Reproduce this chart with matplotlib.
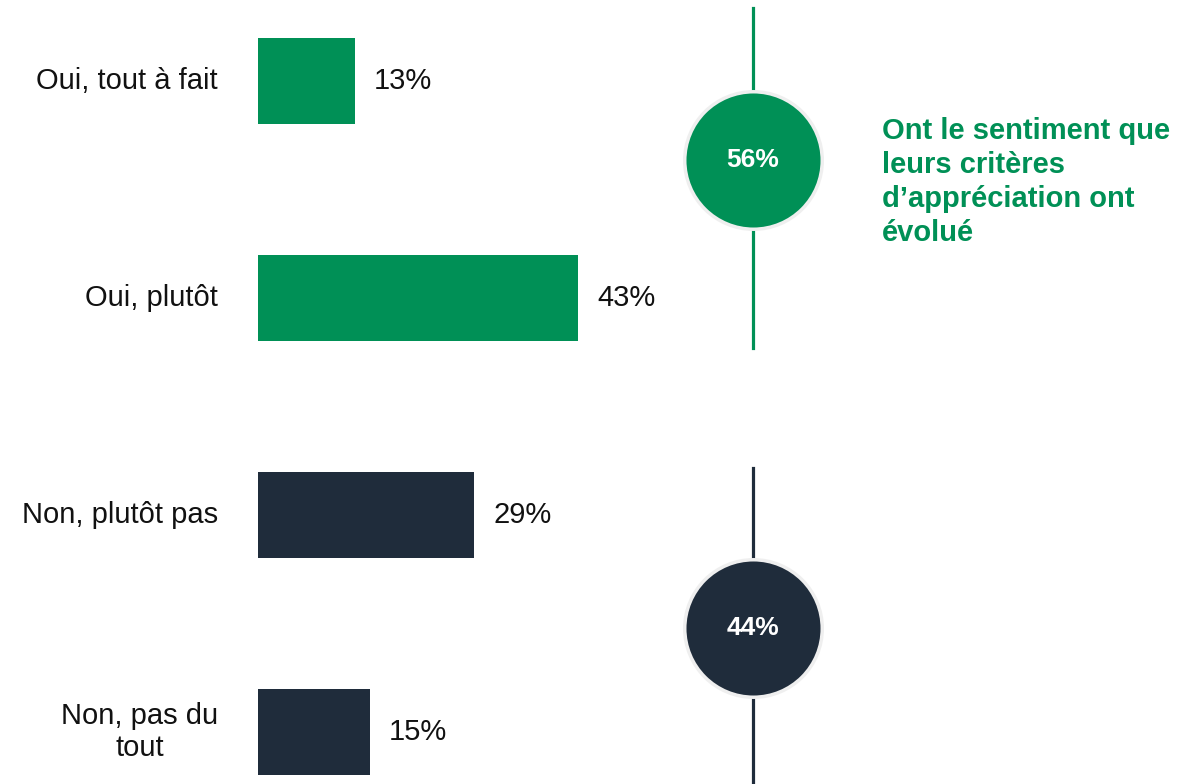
import matplotlib
matplotlib.use('Agg')
import matplotlib.pyplot as plt

plt.rcParams['font.family'] = ['Liberation Sans', 'DejaVu Sans']

categories = ['Oui, tout à fait', 'Oui, plutôt', 'Non, plutôt pas', 'Non, pas du\ntout']
values = [13, 43, 29, 15]
totals = [56, 44]
total_labels = ['56%', '44%']
note = "Ont le sentiment que\nleurs critères\nd\u2019appréciation ont\névolué"

green = '#009056'
navy = '#1f2c3b'
bar_colors = [green, green, navy, navy]

W, H = 1200, 784
fig = plt.figure(figsize=(W / 100, H / 100), dpi=100)
ax = fig.add_axes([0, 0, 1, 1])

# pixel mapping: x=0 at 258px, 7.45 px per percent; rows 217px apart, first at 81px
px_per = 7.45
x0 = 258
ax.set_xlim(-x0 / px_per, (W - x0) / px_per)
ax.set_ylim((H - 81) / 217, -81 / 217)
ax.axis('off')

ypos = list(range(len(categories)))
ax.barh(ypos, values, height=0.40, color=bar_colors, edgecolor='none')

for y, v, c in zip(ypos, values, categories):
    ax.annotate(c, (0, y), xytext=(-40, 0), textcoords='offset pixels',
                ha='right', va='center', fontsize=21, color='#111111',
                multialignment='center')
    ax.annotate(f'{v}%', (v, y), xytext=(19, 0), textcoords='offset pixels',
                ha='left', va='center', fontsize=21, color='#111111')

cx = (753 - x0) / px_per
# vertical lines
ax.plot([cx, cx], [(8 - 81) / 217, (348 - 81) / 217], color=green, lw=2.3, zorder=1)
ax.plot([cx, cx], [(468 - 81) / 217, (790 - 81) / 217], color=navy, lw=2.3, zorder=1)

circle_y = [(160 - 81) / 217, (628 - 81) / 217]
for cy, t, lab, col in zip(circle_y, totals, total_labels, [green, navy]):
    ax.scatter([cx], [cy], s=99 ** 2, color=col, edgecolors='#efefef',
               linewidths=2.5, zorder=3)
    ax.text(cx, cy, lab, ha='center', va='center', fontsize=19, fontweight='bold',
            color='white', zorder=4)

fig.text(882 / W, 1 - 117 / H, note, ha='left', va='top', fontsize=21,
         fontweight='bold', color=green, linespacing=1.27)

fig.savefig('out.png', dpi=100)
